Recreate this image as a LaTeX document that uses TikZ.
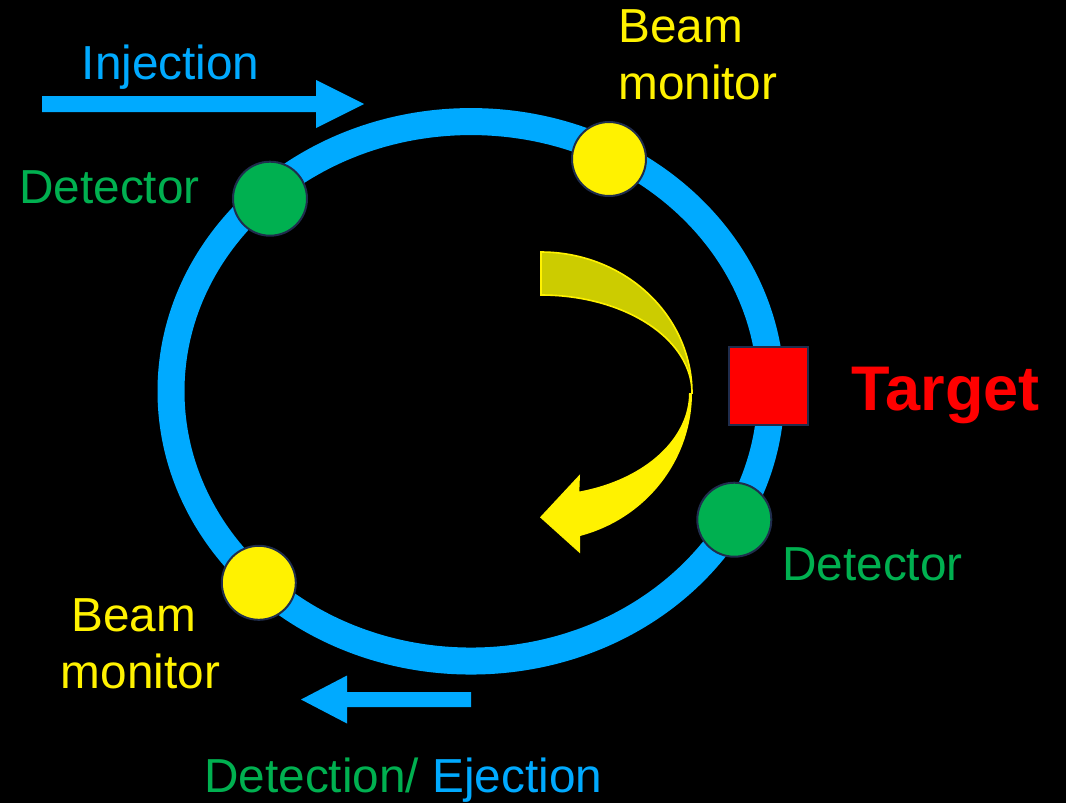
\documentclass[tikz,border=0pt]{standalone}
\usepackage{fontspec}
\setmainfont{Liberation Sans}
\definecolor{ringblue}{RGB}{0,170,255}
\definecolor{pgreen}{RGB}{0,176,80}
\definecolor{navy}{RGB}{31,45,77}
\definecolor{olive}{RGB}{204,204,0}
\begin{document}
\begin{tikzpicture}[x=0.75pt,y=-0.75pt,
  lbl/.style={inner sep=0pt, font=\fontsize{35.8}{42.75}\selectfont},
  dot/.style={circle, draw=navy, line width=1.5pt, minimum size=55.5pt, inner sep=0pt},
  tgtbox/.style={rectangle, draw=navy, line width=1.5pt, fill=red, minimum size=59pt, inner sep=0pt},
  bigarrow/.style={fill=ringblue}]
\fill[black] (0,0) rectangle (1066,803);
\useasboundingbox (0,0) rectangle (1066,803);
% storage ring
\draw[ringblue, line width=20.25pt] (471,391.3) ellipse [x radius=225pt, y radius=202.3pt];
% curved circulation arrow
\filldraw[fill=olive, draw=yellow, line width=1.2pt]
  plot[domain=-90:0, samples=50, smooth] ({541+151*cos(\x)},{393+141*sin(\x)})
  -- plot[domain=0:-90, samples=50, smooth] ({541+151*cos(\x)},{393+98*sin(\x)}) -- cycle;
\fill[yellow]
  plot[domain=0:75, samples=50, smooth] ({541+151*cos(\x)},{393+148*sin(\x)})
  -- (580,553.3) -- (540,517.3) -- (580,474.3)
  -- plot[domain=75:0, samples=50, smooth] ({541+148*cos(\x)},{393+102*sin(\x)}) -- cycle;
% devices on the ring
\node[dot, fill=yellow] (bm1) at (609,159) {};
\node[dot, fill=pgreen] (det1) at (270,198.7) {};
\node[dot, fill=yellow] (bm2) at (258.8,582.8) {};
\node[dot, fill=pgreen] (det2) at (734.3,519.7) {};
\node[tgtbox] (tgt) at (768.5,386) {};
% injection / ejection arrows
\fill[bigarrow] (42,96) -- (316,96) -- (316,80) -- (364,104) -- (316,128) -- (316,112) -- (42,112) -- cycle;
\fill[bigarrow] (471,692) -- (347,692) -- (347,675.5) -- (301,699.5) -- (347,723.5) -- (347,707) -- (471,707) -- cycle;
% labels
\node[lbl, text=ringblue, anchor=base west] (inj) at (81.5,79) {Injection};
\node[lbl, text=pgreen, anchor=base west] (detL) at (19,203) {Detector};
\node[lbl, text=yellow, anchor=north west, align=left] (bmT) at (618,9.5) {Beam\\monitor};
\node[lbl, text=yellow, anchor=north, align=center] (bmB) at (140.5,598) {Beam\kern.278em\\monitor};
\node[inner sep=0pt, text=red, font=\fontsize{47.3}{55}\selectfont\bfseries, anchor=base west] (tgtL) at (851.5,410) {Target};
\node[lbl, text=pgreen, anchor=base west] (detR) at (782,580) {Detector};
\node[lbl, anchor=base west] (ej) at (204,792) {\textcolor{pgreen}{Detection/} \textcolor{ringblue}{Ejection}};
\end{tikzpicture}
\end{document}
